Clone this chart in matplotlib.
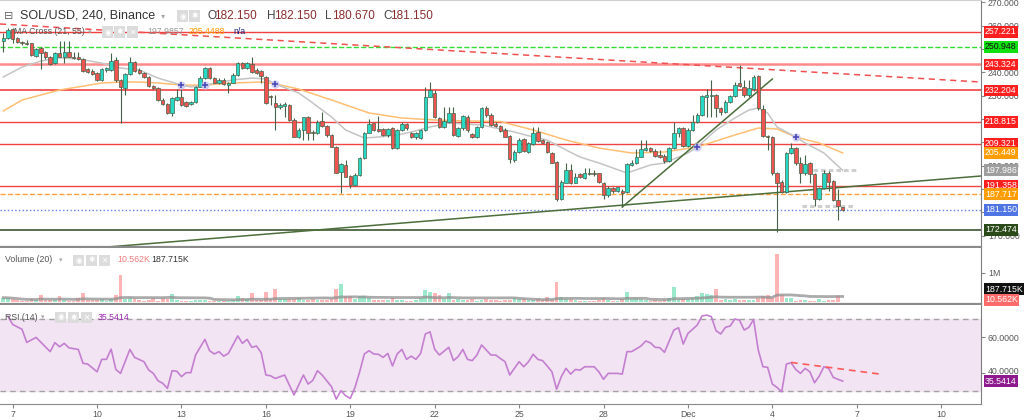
import matplotlib
matplotlib.use('Agg')
import matplotlib.pyplot as plt
import matplotlib.transforms as mtrans
from matplotlib.patches import Rectangle
import numpy as np
import pandas as pd
from datetime import datetime

# ---------------- data ----------------
start_time = datetime(2021, 11, 6, 16, 0)
bar_hours = 4

opens = [253.51, 254.79, 258.36, 254.51, 253.08, 252.65, 252.37, 246.95, 250.23, 248.80,
         246.38, 243.81, 248.37, 246.38, 248.66, 246.66, 246.38, 245.52, 241.24, 240.67,
         239.53, 236.67, 240.95, 240.95, 245.24, 236.67, 233.11, 239.24, 244.52, 240.95,
         239.81, 238.10, 234.10, 233.11, 228.11, 226.40, 222.40, 228.11, 229.54, 227.40,
         226.40, 227.40, 233.82, 237.38, 241.67, 237.38, 235.24, 236.67, 234.53, 235.53,
         238.81, 244.09, 241.67, 243.52, 240.95, 240.67, 238.10, 229.82, 226.68, 224.97,
         225.54, 225.97, 219.55, 212.41, 215.27, 220.69, 214.55, 213.84, 219.26, 216.98,
         213.13, 208.13, 197.43, 200.29, 195.58, 191.73, 196.00, 203.14, 214.13, 218.12,
         215.55, 215.55, 213.13, 215.98, 207.42, 215.27, 217.84, 214.13, 212.13, 211.70,
         215.27, 229.54, 231.25, 220.26, 216.70, 218.84, 222.69, 212.70, 215.98, 220.98,
         213.56, 212.41, 216.41, 224.55, 221.69, 217.84, 216.98, 215.27, 212.70, 202.43,
         205.99, 211.27, 205.99, 209.28, 214.41, 210.99, 210.27, 205.56, 201.57, 185.59,
         192.72, 198.14, 192.72, 196.43, 194.58, 197.00, 197.00, 196.72, 192.72, 187.44,
         190.30, 189.30, 189.30, 188.87, 200.29, 201.00, 203.85, 206.71, 207.42, 206.42,
         204.57, 204.14, 202.14, 207.42, 213.84, 215.98, 208.42, 215.27, 218.84, 221.69,
         229.54, 229.90, 230.25, 224.55, 223.12, 227.40, 229.82, 235.24, 233.82, 230.25,
         232.68, 238.38, 224.12, 212.70, 212.41, 196.72, 193.15, 188.87, 205.28, 207.42,
         201.00, 196.72, 201.00, 196.43, 185.59, 190.30, 197.00, 193.58, 185.30, 182.15]

closes = [254.79, 258.08, 254.08, 253.08, 252.37, 252.08, 247.37, 249.80, 248.37, 246.38,
          243.52, 248.37, 246.66, 248.80, 246.66, 245.95, 245.52, 240.52, 240.24, 239.24,
          236.67, 241.24, 241.67, 244.95, 236.67, 233.53, 239.24, 244.52, 240.67, 239.53,
          237.81, 234.10, 233.11, 228.11, 226.40, 222.40, 229.11, 229.54, 225.97, 225.54,
          227.40, 233.82, 237.38, 241.67, 237.38, 235.53, 236.67, 234.96, 235.53, 238.81,
          244.09, 241.67, 243.81, 240.24, 239.81, 238.38, 226.97, 229.25, 224.97, 225.97,
          226.40, 219.55, 212.41, 215.27, 220.69, 214.13, 213.84, 218.84, 216.98, 213.13,
          208.13, 197.00, 200.71, 195.29, 191.73, 196.00, 203.14, 214.13, 217.84, 215.27,
          214.98, 213.13, 215.55, 207.42, 215.27, 217.84, 215.98, 212.13, 214.13, 215.27,
          229.25, 232.39, 220.69, 216.70, 219.26, 222.40, 213.13, 215.98, 221.26, 215.27,
          212.41, 216.41, 224.55, 221.69, 217.41, 216.98, 214.98, 212.41, 202.71, 205.99,
          210.99, 206.42, 209.56, 214.13, 210.70, 209.85, 205.99, 201.28, 185.59, 193.15,
          198.14, 192.44, 195.29, 195.01, 196.72, 196.58, 196.43, 193.15, 187.44, 190.30,
          189.30, 190.72, 188.44, 200.71, 201.00, 203.85, 206.99, 207.42, 206.42, 204.14,
          203.85, 202.14, 207.42, 213.84, 215.98, 208.42, 215.27, 218.84, 221.69, 229.82,
          230.20, 230.25, 224.55, 223.12, 227.40, 229.82, 234.53, 234.10, 230.25, 233.11,
          238.10, 224.55, 212.70, 212.30, 196.72, 192.72, 188.87, 205.56, 207.42, 201.00,
          196.72, 200.71, 196.43, 185.59, 190.30, 196.72, 193.15, 185.30, 182.73, 181.15]

highs = [256.65, 258.79, 258.79, 254.94, 253.51, 253.80, 252.65, 250.23, 250.66, 249.23,
         246.95, 248.80, 253.37, 253.37, 253.37, 248.80, 248.80, 245.95, 241.67, 241.24,
         240.24, 241.67, 242.38, 248.09, 246.66, 237.00, 239.81, 246.66, 244.95, 241.67,
         240.24, 238.38, 234.53, 233.53, 228.82, 226.97, 229.54, 232.68, 232.68, 227.82,
         227.82, 234.10, 238.38, 242.38, 242.38, 237.81, 237.38, 237.38, 235.96, 239.53,
         244.52, 244.52, 244.52, 246.38, 241.67, 240.95, 238.38, 230.25, 230.25, 226.68,
         227.40, 226.40, 220.26, 215.98, 220.98, 221.26, 215.27, 219.55, 223.12, 217.41,
         213.56, 208.42, 201.28, 202.43, 196.00, 196.72, 203.85, 214.55, 219.84, 218.41,
         221.26, 215.98, 215.98, 216.41, 215.70, 218.84, 218.41, 214.55, 214.55, 215.70,
         233.82, 235.96, 232.39, 220.98, 225.26, 225.26, 225.26, 216.70, 221.69, 221.69,
         214.13, 216.98, 225.26, 225.54, 222.40, 218.84, 217.41, 215.98, 213.13, 206.71,
         211.70, 211.70, 210.27, 216.70, 216.70, 211.27, 210.70, 205.99, 201.86, 193.86,
         201.00, 200.71, 196.72, 196.72, 198.86, 198.86, 198.14, 197.00, 193.15, 191.30,
         191.01, 191.01, 189.87, 201.00, 202.43, 206.99, 210.99, 210.99, 208.13, 207.00,
         206.71, 205.00, 208.13, 218.84, 216.70, 216.41, 215.98, 221.69, 222.40, 230.25,
         232.68, 236.67, 230.68, 225.26, 228.11, 230.25, 235.96, 243.09, 236.67, 236.67,
         238.81, 238.81, 225.97, 213.13, 212.70, 197.43, 193.86, 205.99, 209.56, 208.13,
         203.85, 204.57, 201.71, 197.00, 191.00, 198.14, 197.86, 193.86, 189.87, 182.15]

lows = [248.80, 254.08, 252.37, 252.37, 251.66, 251.66, 246.95, 246.66, 241.24, 245.52,
        243.09, 243.52, 246.38, 243.81, 246.38, 245.52, 245.23, 240.24, 239.81, 238.81,
        236.39, 236.39, 240.24, 240.67, 235.96, 218.41, 230.25, 238.81, 240.24, 239.24,
        237.38, 233.53, 232.68, 227.82, 225.97, 222.12, 221.26, 227.82, 225.54, 225.26,
        225.97, 226.97, 233.53, 237.00, 237.00, 235.24, 234.96, 234.53, 231.25, 235.24,
        238.38, 241.24, 241.24, 239.81, 239.24, 235.24, 226.40, 225.97, 215.27, 224.12,
        220.98, 219.26, 212.13, 211.70, 210.99, 210.99, 210.99, 213.50, 216.70, 212.41,
        207.85, 196.72, 188.16, 195.01, 190.30, 191.30, 195.58, 202.71, 213.84, 214.98,
        214.55, 212.70, 212.41, 206.99, 206.99, 214.98, 215.27, 211.70, 211.27, 211.27,
        214.98, 229.25, 220.26, 215.98, 215.98, 218.41, 212.70, 212.13, 215.27, 214.55,
        211.70, 211.70, 215.98, 220.98, 216.98, 216.41, 214.55, 212.13, 201.00, 201.71,
        205.56, 205.99, 205.56, 208.85, 210.27, 209.56, 205.56, 201.00, 185.02, 185.30,
        192.44, 192.15, 192.44, 194.58, 194.15, 196.00, 195.58, 192.72, 185.59, 186.73,
        188.44, 188.87, 182.45, 188.44, 199.86, 200.71, 203.57, 206.42, 205.99, 203.85,
        203.14, 201.00, 201.71, 206.99, 212.41, 208.13, 208.13, 214.98, 218.41, 221.26,
        220.98, 221.00, 220.98, 221.69, 222.69, 226.68, 229.54, 233.53, 229.54, 229.54,
        232.00, 223.83, 212.41, 206.71, 196.00, 171.75, 188.16, 188.44, 204.85, 200.29,
        192.44, 196.00, 192.72, 182.73, 185.30, 189.87, 189.30, 185.02, 176.74, 180.67]

volumes_k = [150, 140, 110, 60, 40, 40, 90, 60, 230, 70,
             60, 80, 190, 60, 50, 40, 150, 320, 80, 60,
             70, 90, 50, 90, 250, 930, 120, 150, 100, 60,
             50, 70, 130, 50, 140, 120, 280, 60, 50, 40,
             30, 80, 60, 80, 40, 50, 40, 40, 30, 60,
             200, 150, 90, 300, 80, 70, 350, 90, 450, 90,
             110, 100, 120, 150, 80, 70, 90, 60, 80, 70,
             90, 450, 620, 200, 200, 120, 200, 200, 150, 80,
             60, 70, 60, 130, 70, 60, 50, 50, 60, 150,
             410, 350, 300, 250, 120, 320, 80, 120, 60, 70,
             90, 50, 60, 110, 70, 60, 50, 60, 70, 150,
             100, 120, 80, 60, 90, 70, 180, 80, 700, 180,
             120, 90, 60, 50, 40, 40, 40, 60, 140, 80,
             40, 40, 100, 330, 100, 150, 120, 60, 50, 80,
             50, 60, 150, 500, 120, 100, 120, 130, 200, 300,
             280, 250, 450, 80, 100, 80, 100, 60, 80, 60,
             60, 150, 200, 250, 150, 1660, 250, 150, 150, 50,
             60, 80, 40, 50, 100, 50, 60, 80, 200, 10.562]

# MA Cross (21, 55) lines (bar index, value)
ma21_idx = [0, 4, 8, 12, 16, 21, 25, 29, 33, 38, 40, 43, 49, 53, 56, 58, 61, 63, 66, 70,
            73, 77, 80, 84, 87, 91, 95, 102, 105, 109, 113, 116, 120, 123, 127, 133, 138, 141,
            146, 148, 152, 156, 159, 161, 163, 165, 169, 171, 175, 179]
ma21_val = [237.96, 242.20, 244.80, 246.10, 245.70, 243.90, 241.80, 240.95, 237.50, 234.50,
            233.70, 234.50, 236.70, 237.50, 237.10, 235.00, 232.60, 231.11, 226.82, 220.83,
            215.27, 211.84, 212.27, 213.13, 214.41, 216.55, 218.26, 217.41, 216.12, 214.41,
            212.27, 210.98, 206.71, 203.71, 201.14, 196.86, 200.28, 201.14, 205.42, 207.99,
            215.27, 220.40, 223.83, 224.68, 222.55, 216.55, 212.27, 209.70, 205.42, 197.986]
ma55_idx = [0, 4, 8, 12, 16, 21, 25, 29, 33, 38, 43, 49, 55, 58, 63, 70, 78, 85, 92, 99,
            106, 113, 120, 127, 134, 141, 148, 156, 161, 165, 169, 174, 179]
ma55_val = [223.40, 228.10, 230.25, 232.40, 233.70, 235.40, 235.80, 235.80, 235.40, 234.50,
            234.50, 235.40, 235.80, 235.00, 232.80, 228.11, 222.55, 220.40, 219.55, 219.12,
            218.90, 215.27, 210.98, 207.56, 205.42, 205.85, 207.99, 213.13, 216.12, 215.70,
            212.27, 209.70, 205.449]
cross_idx = [38, 43, 58, 148, 169]
cross_val = [234.50, 234.50, 235.00, 207.99, 212.27]

# RSI (14) (bar index, value)
rsi_idx = [1, 2, 4, 5, 7, 10, 11, 12, 13, 14, 16, 17, 18, 20, 21, 22, 23, 24, 25, 27,
           28, 30, 31, 32, 33, 34, 35, 36, 37, 38, 39, 40, 41, 43, 44, 45, 46, 47, 48, 50,
           51, 52, 53, 54, 55, 56, 57, 58, 60, 62, 63, 64, 65, 66, 67, 68, 70, 71, 72, 73,
           74, 75, 76, 77, 78, 79, 80, 81, 82, 83, 84, 85, 86, 87, 88, 89, 90, 91, 92, 93,
           95, 96, 97, 98, 99, 100, 101, 102, 103, 104, 105, 106, 107, 108, 109, 110, 111, 112, 113, 114,
           115, 116, 117, 118, 119, 120, 121, 122, 123, 124, 126, 127, 128, 129, 131, 132, 133, 134, 136, 137,
           138, 139, 140, 141, 143, 144, 145, 146, 147, 148, 149, 150, 151, 152, 153, 154, 155, 156, 157, 158,
           159, 160, 161, 162, 163, 164, 165, 166, 167, 168, 169, 170, 171, 172, 173, 174, 175, 176, 177, 178,
           179]
rsi_val = [71.5, 67.0, 64.3, 57.0, 59.8, 51.9, 56.9, 54.6, 56.5, 54.0, 53.1, 45.4, 45.0, 40.7, 47.6, 47.6, 53.3, 42.0, 39.8, 53.1,
           48.7, 46.3, 41.7, 39.8, 35.7, 34.3, 31.5, 41.3, 41.0, 38.0, 40.2, 40.2, 50.0, 58.7, 52.4, 50.6, 51.9, 49.4, 50.9, 60.6,
           56.5, 58.7, 54.3, 55.0, 51.3, 38.9, 38.5, 37.0, 38.9, 27.8, 33.3, 38.9, 33.9, 35.9, 41.3, 38.9, 32.4, 25.5, 30.2, 27.4,
           25.9, 32.0, 40.7, 50.6, 52.4, 50.6, 50.4, 48.7, 50.9, 43.9, 50.6, 53.1, 47.6, 49.4, 47.6, 50.9, 61.7, 62.9, 53.2, 50.0,
           54.3, 46.9, 49.1, 53.1, 47.6, 46.9, 50.0, 55.6, 52.8, 50.0, 50.0, 48.1, 46.3, 38.9, 42.6, 46.3, 43.5, 46.3, 50.4, 47.6,
           46.9, 43.9, 40.7, 31.0, 38.0, 42.6, 39.4, 42.0, 41.6, 43.5, 43.5, 40.7, 36.5, 39.8, 39.8, 39.4, 51.9, 51.9, 55.0, 57.8,
           56.8, 54.3, 54.1, 51.5, 63.9, 65.2, 56.1, 62.0, 64.3, 66.7, 71.7, 72.2, 71.3, 63.5, 61.7, 65.4, 66.1, 70.0, 69.4, 63.9,
           65.4, 69.8, 52.8, 43.5, 43.2, 33.9, 32.0, 29.6, 45.0, 45.7, 42.0, 39.8, 42.6, 40.7, 34.6, 38.3, 43.5, 42.6, 37.6, 36.5,
           35.5414]

# horizontal levels: (price, colour, style, width)
levels = [(257.221, '#f44040', '-', 1.0), (250.948, '#33dd33', '--', 1.0),
          (243.324, '#ff8a8a', '-', 1.8), (232.204, '#f25050', '-', 1.3),
          (218.815, '#f04444', '-', 1.0), (209.321, '#f04444', '-', 1.0),
          (191.358, '#f04444', '-', 1.0), (187.717, '#ffa040', '--', 1.0),
          (181.150, '#6a7ee8', ':', 1.0), (172.474, '#3b5530', '-', 1.2)]
# right-scale labels: (price, text, box colour, text colour)
price_tags = [(257.221, '257.221', '#ff1f1f', 'white'), (250.948, '250.948', '#11e011', '#111111'),
              (243.324, '243.324', '#ff1f1f', 'white'), (232.204, '232.204', '#ff1f1f', 'white'),
              (218.815, '218.815', '#ff1f1f', 'white'), (209.321, '209.321', '#ff1f1f', 'white'),
              (205.449, '205.449', '#ff9d00', 'white'), (197.986, '197.986', '#9e9e9e', 'white'),
              (191.358, '191.358', '#ff1f1f', 'white'), (187.717, '187.717', '#ff9d00', 'white'),
              (181.150, '181.150', '#4f74e3', 'white'), (172.474, '172.474', '#2b4a1a', 'white')]
# price-scale ticks; labels shown only where the tags leave them visible
price_ticks = [170, 180, 190, 200, 210, 220, 230, 240, 250, 260, 270]
price_tick_shown = [170, 200, 230, 240, 260, 270]

# trend lines drawn on the chart (bar index, price)
red_trend = [(0, 260.57), (200, 236.81)]
green_long = [(20, 164.81), (209, 195.66)]
green_short = [(132, 182.30), (164, 237.10)]
gray_segments = [((172.6, 182.2), 198.0), ((170.3, 181.6), 182.7)]
rsi_trend = [(168, 45.9), (187, 39.4)]

tick_dates = [datetime(2021, 11, d) for d in (7, 10, 13, 16, 19, 22, 25, 28)] + \
             [datetime(2021, 12, d) for d in (1, 4, 7, 10)]
tick_labels = ['7', '10', '13', '16', '19', '22', '25', '28', 'Dec', '4', '7', '10']

# ---------------- figure ----------------
W, H = 1024, 420
FONT = ['Liberation Sans', 'DejaVu Sans']
plt.rcParams['font.family'] = FONT
fig = plt.figure(figsize=(W / 100, H / 100), dpi=100)


def px_axes(x0, y0, x1, y1):
    return fig.add_axes([x0 / W, 1 - y1 / H, (x1 - x0) / W, (y1 - y0) / H])


ax1 = px_axes(0, 0, 981, 247)
ax2 = px_axes(0, 248, 981, 304)
ax3 = px_axes(0, 305, 981, 404)

o = np.array(opens); c = np.array(closes); hi = np.array(highs); lo = np.array(lows)
idx = np.arange(len(o))
up = c >= o
UP, DN, EDGE = '#27d8c4', '#f05350', '#46634a'

for ax in (ax1, ax2, ax3):
    ax.set_xlim(-0.7, 208.5)
    ax.set_facecolor('white')
    for s in ('left', 'top'):
        ax.spines[s].set_visible(False)
    ax.spines['right'].set_color('#7d7d7d')
    ax.spines['bottom'].set_color('#8a8a8a')
    ax.yaxis.tick_right()
    ax.tick_params(axis='y', length=3, color='#888888', labelsize=6.3, labelcolor='#555555', pad=2)
    ax.tick_params(axis='x', bottom=False, labelbottom=False)
ax1.spines['bottom'].set_linewidth(1.6)
ax2.spines['bottom'].set_linewidth(1.6)
ax1.spines['top'].set_visible(True)
ax1.spines['top'].set_color('#d0d0d0')

# ---- price pane ----
ax1.set_ylim(165.18, 270.92)
ax1.set_yticks(price_ticks)
ax1.set_yticklabels([f'{v:.3f}' if v in price_tick_shown else '' for v in price_ticks])

for p, col, ls, lw in levels:
    ax1.axhline(p, color=col, ls=ls, lw=lw, zorder=1)

ax1.plot(ma55_idx, ma55_val, color='#ffbf73', lw=1.1, zorder=2)
ax1.plot(ma21_idx, ma21_val, color='#c4c4c4', lw=1.1, zorder=2)

ax1.axline(red_trend[0], red_trend[1], color='#f05050', ls=(0, (4, 3)), lw=1.1, zorder=2)
ax1.plot(*zip(*green_long), color='#4b6e3a', lw=1.1, zorder=2.5)
ax1.plot(*zip(*green_short), color='#4b6e3a', lw=1.1, zorder=2.5)
for (x0, x1), p in gray_segments:
    ax1.plot([x0, x1], [p, p], color='#cfcfcf', lw=2.2, ls=(0, (1.5, 1)), zorder=2)

ax1.vlines(idx, lo, hi, color=EDGE, lw=0.8, zorder=3)
body_lo = np.minimum(o, c)
body_h = np.maximum(np.abs(c - o), 0.3)
ax1.bar(idx, body_h, bottom=body_lo, width=0.74, color=np.where(up, UP, DN),
        edgecolor=EDGE, linewidth=0.5, zorder=4)

ax1.plot(cross_idx, cross_val, 'o', ms=5, color='#c9c9f0', alpha=0.8, zorder=5)
ax1.plot(cross_idx, cross_val, '+', ms=5, mew=1.2, color='#4b4bb8', zorder=6)

# ---- volume pane ----
vol = np.array(volumes_k) * 1000.0
ax2.set_ylim(-0.069e6, 1.862e6)
ax2.bar(idx, vol, width=0.8, color=np.where(up, '#9be8cb', '#ffb5b5'), zorder=2)
vma = pd.Series(vol).rolling(20, min_periods=1).mean()
ax2.plot(idx, vma, color='#8f8f8f', lw=2.0, alpha=0.75, zorder=3)
ax2.set_yticks([1e6])
ax2.set_yticklabels(['1M'])

# ---- RSI pane ----
ax3.set_ylim(22.8, 77.8)
ax3.axhspan(30, 70, color='#f2e4f2', zorder=0)
ax3.axhline(70, color='#a3a3a3', ls=(0, (4, 3)), lw=1.0, zorder=1)
ax3.axhline(30, color='#a3a3a3', ls=(0, (4, 3)), lw=1.0, zorder=1)
ax3.plot(rsi_idx, rsi_val, color='#c47fd0', lw=1.2, zorder=3)
ax3.plot(*zip(*rsi_trend), color='#ff5a5a', ls=(0, (4, 3)), lw=1.2, zorder=3)
ax3.set_yticks([40, 60])
ax3.set_yticklabels(['', '60.0000'])

tick_pos = [(d - start_time).total_seconds() / 3600 / bar_hours for d in tick_dates]
ax3.set_xticks(tick_pos)
ax3.set_xticklabels(tick_labels)
ax3.tick_params(axis='x', bottom=True, labelbottom=True, length=3, color='#888888',
                labelsize=6.3, labelcolor='#555555', pad=1.5)


# ---------------- overlays ----------------
def ftext(x, y, s, color='#444444', size=6.3, **kw):
    fig.text(x / W, 1 - y / H, s, color=color, fontsize=size, va='center', ha='left',
             family=FONT, zorder=20, **kw)


def caret(x, y, size=5):
    fig.text(x / W, 1 - y / H, '▾', fontsize=size, color='#aaaaaa', ha='center', va='center',
             family=['DejaVu Sans'], zorder=20)


def icon(x, y, glyph, w=11, h=11):
    fig.add_artist(Rectangle((x / W, 1 - (y + h / 2) / H), w / W, h / H, transform=fig.transFigure,
                             fc='#dcdcdc', ec='none', zorder=19))
    fig.text((x + w / 2) / W, 1 - y / H, glyph, color='white', fontsize=5.5, ha='center',
             va='center', family=['DejaVu Sans'], zorder=20)


def rtag(ax, val, text, fc, tc):
    tr = mtrans.blended_transform_factory(fig.transFigure, ax.transData)
    fig.text(985 / W, val, text, transform=tr, fontsize=6.3, color=tc, ha='left', va='center',
             family=FONT, zorder=30, bbox=dict(boxstyle='square,pad=0.16', fc=fc, ec='none'))


def ftag(y, text, fc, tc):
    fig.text(985 / W, 1 - y / H, text, fontsize=6.3, color=tc, ha='left', va='center',
             family=FONT, zorder=30, bbox=dict(boxstyle='square,pad=0.16', fc=fc, ec='none'))


for p, t, fc, tc in price_tags:
    rtag(ax1, p, t, fc, tc)
ftag(289, '187.715K', '#111111', 'white')
ftag(300, '10.562K', '#ff6b6b', 'white')
# partly hidden 40.0000 scale label above the RSI tag
fig.text(988 / W, 1 - 372 / H, '40.0000', fontsize=6.3, color='#555555', ha='left', va='center',
         family=FONT, zorder=25)
rtag(ax3, 35.5414, '35.5414', '#8e1a8e', 'white')

# title row
fig.text(8.5 / W, 1 - 16 / H, '⊟', fontsize=8, color='#666666', ha='center', va='center',
         family=['DejaVu Sans'], zorder=20)
ftext(20, 16, 'SOL/USD, 240, Binance', color='#333333', size=9)
caret(163, 16, 6)
icon(177, 16, '◉')
icon(189, 16, '✱')
for lx, lab, val in ((207, 'O', '182.150'), (267, 'H', '182.150'), (325, 'L', '180.670'), (383, 'C', '181.150')):
    ftext(lx, 16, lab, color='#444444', size=8.5)
    ftext(lx + 7.5, 16, val, color='#8a2e2e', size=8.5)

# MA Cross row
ftext(14, 32, 'MA Cross (21, 55)', color='#555555', size=6.3)
caret(90, 32)
icon(102, 32, '◉'); icon(114, 32, '✱'); icon(127, 32, '✕')
ftext(147, 32, '197.9857', color='#9a9a9a', size=6.3)
ftext(189, 32, '205.4488', color='#ff9800', size=6.3)
ftext(233, 32, 'n/a', color='#1a237e', size=6.3)

# Volume row
ftext(5, 260, 'Volume (20)', color='#555555', size=6.3)
caret(61, 260)
icon(73, 260, '◉'); icon(86, 260, '✱'); icon(99, 260, '✕')
ftext(117, 260, '10.562K', color='#f07c7c', size=6.3)
ftext(151, 260, '187.715K', color='#333333', size=6.3)

# RSI row
ftext(5, 317, 'RSI (14)', color='#555555', size=6.3)
caret(43, 317)
icon(55, 317, '◉'); icon(68, 317, '✱'); icon(81, 317, '✕')
ftext(98, 317, '35.5414', color='#9c27b0', size=6.3)

fig.savefig('out.png', dpi=100, facecolor='white')
